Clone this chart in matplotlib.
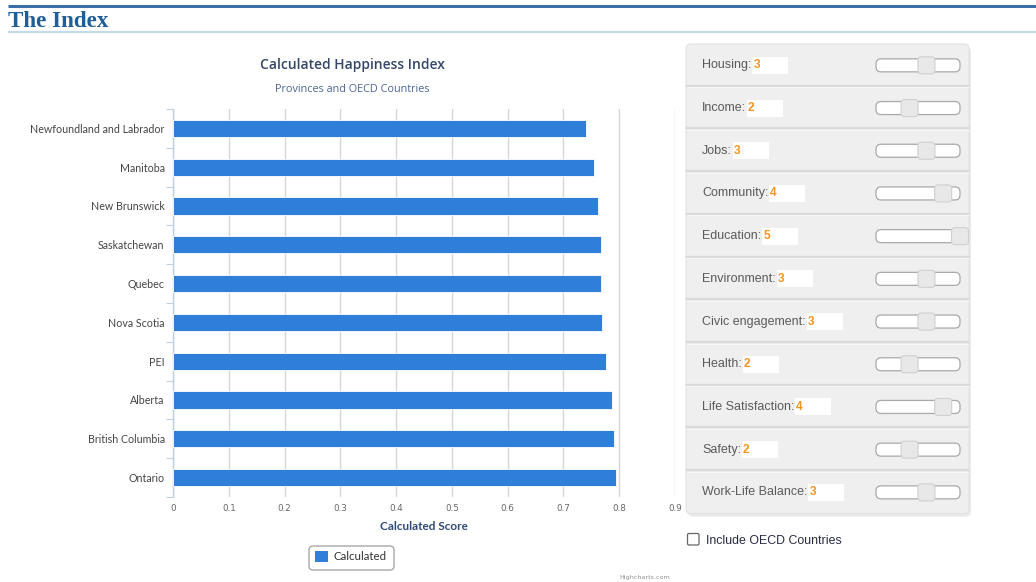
import numpy as np
import matplotlib
matplotlib.use("Agg")
import matplotlib.pyplot as plt
from matplotlib.patches import FancyBboxPatch, Rectangle

# chart data
regions = ["Newfoundland and Labrador", "Manitoba", "New Brunswick", "Saskatchewan",
           "Quebec", "Nova Scotia", "PEI", "Alberta", "British Columbia", "Ontario"]
scores = [0.740, 0.755, 0.762, 0.768, 0.768, 0.770, 0.776, 0.787, 0.790, 0.794]
score_ticks = [0, 0.1, 0.2, 0.3, 0.4, 0.5, 0.6, 0.7, 0.8, 0.9]

# slider panel
factors = ["Housing", "Income", "Jobs", "Community", "Education", "Environment",
           "Civic engagement", "Health", "Life Satisfaction", "Safety", "Work-Life Balance"]
weights = [3, 2, 3, 4, 5, 3, 3, 2, 4, 2, 3]
weight_max = 5

W, H = 1036, 582
fig = plt.figure(figsize=(W / 100, H / 100), dpi=100)
fig.patch.set_facecolor("white")

# background axes in pixel coordinates for the page parts
bg = fig.add_axes([0, 0, 1, 1])
bg.set_xlim(0, W)
bg.set_ylim(H, 0)
bg.axis("off")

# page header
bg.plot([8, W], [6, 6], color="#3b6ea8", lw=2.2, solid_capstyle="butt")
bg.plot([8, W], [31.5, 31.5], color="#c4d9e6", lw=1.6, solid_capstyle="butt")
bg.text(8, 27, "The Index", family="Liberation Serif", weight="bold",
        fontsize=16.6, color="#1f5f99", va="baseline", ha="left")

# chart titles
bg.text(352, 65, "Calculated Happiness Index", family="Open Sans", weight="semibold",
        fontsize=10.0, color="#34466a", ha="center", va="center")
bg.text(352, 89, "Provinces and OECD Countries", family="Open Sans", fontsize=7.8,
        color="#4d6596", ha="center", va="center")
bg.text(424, 526, "Calculated Score", family="Lato", weight="bold", fontsize=8.5,
        color="#2f4a77", ha="center", va="center")

# legend
bg.add_patch(FancyBboxPatch((309, 546), 85, 24, boxstyle="round,pad=0,rounding_size=4",
                            fc="white", ec="#a8a8a8", lw=1))
bg.add_patch(Rectangle((315, 551), 13, 11, fc="#2f7ed8", ec="none"))
bg.text(334, 557, "Calculated", family="Lato", fontsize=8.3, color="#333333",
        ha="left", va="center")
bg.text(645, 577, "Highcharts.com", family="DejaVu Sans", fontsize=4.6,
        color="#909090", ha="center", va="center")

# slider panel
px0, px1, py0 = 686, 969, 44
row_h = 42.7
py1 = py0 + row_h * len(factors)
bg.add_patch(FancyBboxPatch((px0 + 2, py0 + 3), px1 - px0, py1 - py0,
                            boxstyle="round,pad=0,rounding_size=5",
                            fc="#dddddd", ec="none", alpha=0.6))
bg.add_patch(FancyBboxPatch((px0, py0), px1 - px0, py1 - py0,
                            boxstyle="round,pad=0,rounding_size=5",
                            fc="#efefef", ec="#e2e2e2", lw=0.8))
for i in range(1, len(factors)):
    yb = py0 + row_h * i
    bg.plot([px0 + 1, px1 - 1], [yb - 1, yb - 1], color="#dadada", lw=1.6)
    bg.plot([px0 + 1, px1 - 1], [yb + 0.6, yb + 0.6], color="#f7f7f7", lw=0.8)

fig.canvas.draw()
renderer = fig.canvas.get_renderer()
track_x0, track_w, track_h = 876, 84, 13
for i, (name, w) in enumerate(zip(factors, weights)):
    yc = py0 + row_h * (i + 0.5)
    t = bg.text(702, yc, name + ":", family="Liberation Sans", fontsize=9.0,
                color="#5a5a5a", ha="left", va="center")
    ext = t.get_window_extent(renderer)
    x_end = ext.x1  # display px == data px horizontally
    bg.add_patch(Rectangle((x_end + 1, yc - 8.5), 36, 17, fc="white", ec="none"))
    bg.text(x_end + 2, yc, str(w), family="Liberation Sans", fontsize=8.6,
            weight="bold", color="#f6931f", ha="left", va="center")
    # slider track
    bg.add_patch(FancyBboxPatch((track_x0, yc - track_h / 2), track_w, track_h,
                                boxstyle="round,pad=0,rounding_size=5",
                                fc="white", ec="#a9a9a9", lw=0.9))
    hx = track_x0 + w / weight_max * track_w
    bg.add_patch(FancyBboxPatch((hx - 8.5, yc - 8.5), 17, 17,
                                boxstyle="round,pad=0,rounding_size=3",
                                fc="#e8e8e8", ec="#d0d0d0", lw=0.8))

# checkbox
bg.add_patch(FancyBboxPatch((687.5, 533.5), 11.5, 11.5, boxstyle="round,pad=0,rounding_size=1.5",
                            fc="white", ec="#666666", lw=0.9))
bg.text(706, 541, "Include OECD Countries", family="Liberation Sans", fontsize=8.9,
        color="#2a2a44", ha="left", va="center")

# bar chart
left, right, top, bottom = 173, 675, 109, 497
ax = fig.add_axes([left / W, 1 - bottom / H, (right - left) / W, (bottom - top) / H])
ax.set_facecolor("none")
y = np.arange(len(regions))
ax.barh(y, scores, height=0.44, color="#2f7ed8", edgecolor="white", linewidth=0.6, zorder=3)
ax.set_xlim(0, 0.9)
ax.set_ylim(len(regions) - 0.5, -0.5)
ax.set_xticks(score_ticks)
ax.set_xticklabels([("%g" % v) for v in score_ticks], family="DejaVu Sans", fontsize=6.3,
                   color="#666666")
ax.set_yticks(y)
ax.set_yticklabels(regions, family="Lato", fontsize=7.7, color="#444444")
ax.set_yticks(np.arange(-0.5, len(regions)), minor=True)
ax.tick_params(axis="y", which="major", length=0, pad=6)
ax.tick_params(axis="y", which="minor", length=5, color="#c0d0e0", width=0.8)
ax.tick_params(axis="x", length=0, pad=5)
ax.grid(axis="x", color="#d6d6d6", lw=1, zorder=0)
for s in ["top", "right", "bottom"]:
    ax.spines[s].set_visible(False)
ax.spines["left"].set_color("#c0d0e0")
ax.spines["left"].set_linewidth(1)

fig.savefig("out.png", dpi=100, facecolor="white")
